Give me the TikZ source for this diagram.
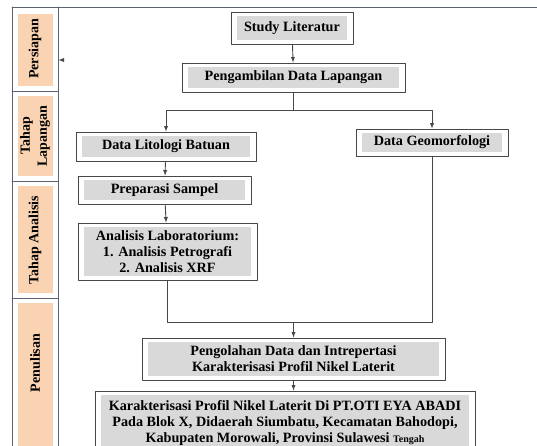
\documentclass[tikz,border=0pt]{standalone}
\usepackage{fontspec}
\setmainfont{Liberation Serif}
\definecolor{boxgray}{HTML}{D9D9D9}
\definecolor{phasefill}{HTML}{FAD4B2}
\definecolor{linecol}{HTML}{474747}
\definecolor{colline}{HTML}{5B6272}
\begin{document}
\begin{tikzpicture}[x=1pt,y=-1pt,line cap=round,line join=round,>=latex,
  flowbox/.style={draw=linecol,line width=0.9pt,inner sep=0pt,align=center,
    font=\bfseries\fontsize{14.2}{16}\selectfont,
    path picture={\fill[boxgray] ([shift={(6pt,4pt)}]path picture bounding box.south west)
      rectangle ([shift={(-6pt,-4pt)}]path picture bounding box.north east);}},
  phase/.style={rotate=90,align=center,inner sep=0pt,font=\bfseries\fontsize{14}{17}\selectfont},
  link/.style={draw=linecol,line width=0.9pt}]
  \useasboundingbox[fill=white] (0,0) rectangle (537,446);
  % tahapan di kolom kiri
  \fill[phasefill] (18,14) rectangle (53,86);
  \fill[phasefill] (18,96) rectangle (53,176);
  \fill[phasefill] (18,186) rectangle (53,293);
  \fill[phasefill] (18,303) rectangle (53,446);
  \draw[colline,line width=0.9pt] (12,7) -- (537,7);
  \draw[colline,line width=0.9pt] (12,7) -- (12,446);
  \draw[colline,line width=0.9pt] (58,7) -- (58,446);
  \draw[colline,line width=0.9pt] (12,91) -- (58,91);
  \draw[colline,line width=0.9pt] (12,181) -- (58,181);
  \draw[colline,line width=0.9pt] (12,298) -- (58,298);
  \node[phase] (persiapan) at (35,49) {Persiapan};
  \node[phase] (lapangan) at (35,136) {Tahap\\Lapangan};
  \node[phase] (analisis) at (35,240) {Tahap Analisis};
  \node[phase] (penulisan) at (35,363) {Penulisan};
  \coordinate (mark) at (62,60);
  \coordinate (markend) at (58.5,60);
  \draw[link,->] (mark) -- (markend);
  % alur penelitian
  \node[flowbox,minimum width=122,minimum height=32] (studi) at (292,28) {Study Literatur};
  \node[flowbox,minimum width=223,minimum height=29] (ambil) at (293.5,77.5) {Pengambilan Data Lapangan};
  \node[flowbox,minimum width=180,minimum height=29] (lito) at (166,146.5) {Data Litologi Batuan};
  \node[flowbox,minimum width=152,minimum height=27] (geo) at (432,142.5) {Data Geomorfologi};
  \node[flowbox,minimum width=173,minimum height=28] (prep) at (164.5,190) {Preparasi Sampel};
  \node[flowbox,minimum width=179,minimum height=57] (lab) at (167.5,251.5)
    {Analisis Laboratorium:\\1. Analisis Petrografi\\2. Analisis XRF};
  \node[flowbox,minimum width=303,minimum height=42] (olah) at (293.5,359)
    {Pengolahan Data dan Intrepertasi\\Karakterisasi Profil Nikel Laterit};
  \node[flowbox,minimum width=380,minimum height=64] (hasil) at (285,423)
    {Karakterisasi Profil Nikel Laterit Di PT.OTI EYA ABADI\\
     Pada Blok X, Didaerah Siumbatu, Kecamatan Bahodopi,\\
     Kabupaten Morowali, Provinsi Sulawesi {\fontsize{10}{16}\selectfont Tengah}};
  \draw[link,->] (studi) -- (ambil);
  \path (ambil.south) ++(0,18) coordinate (split);
  \draw[link] (ambil.south) -- (split);
  \draw[link,->] (split) -| (lito.north);
  \draw[link,->] (split) -| (geo.north);
  \draw[link,->] (lito) -- (prep);
  \draw[link,->] (prep) -- (lab);
  \path (lab.south) ++(0,42) coordinate (merge);
  \draw[link] (lab.south) -- (merge) -| (geo.south);
  \draw[link,->] (olah.north |- merge) -- (olah.north);
  \draw[link,->] (olah.south) -- (olah.south |- hasil.north);
\end{tikzpicture}
\end{document}
